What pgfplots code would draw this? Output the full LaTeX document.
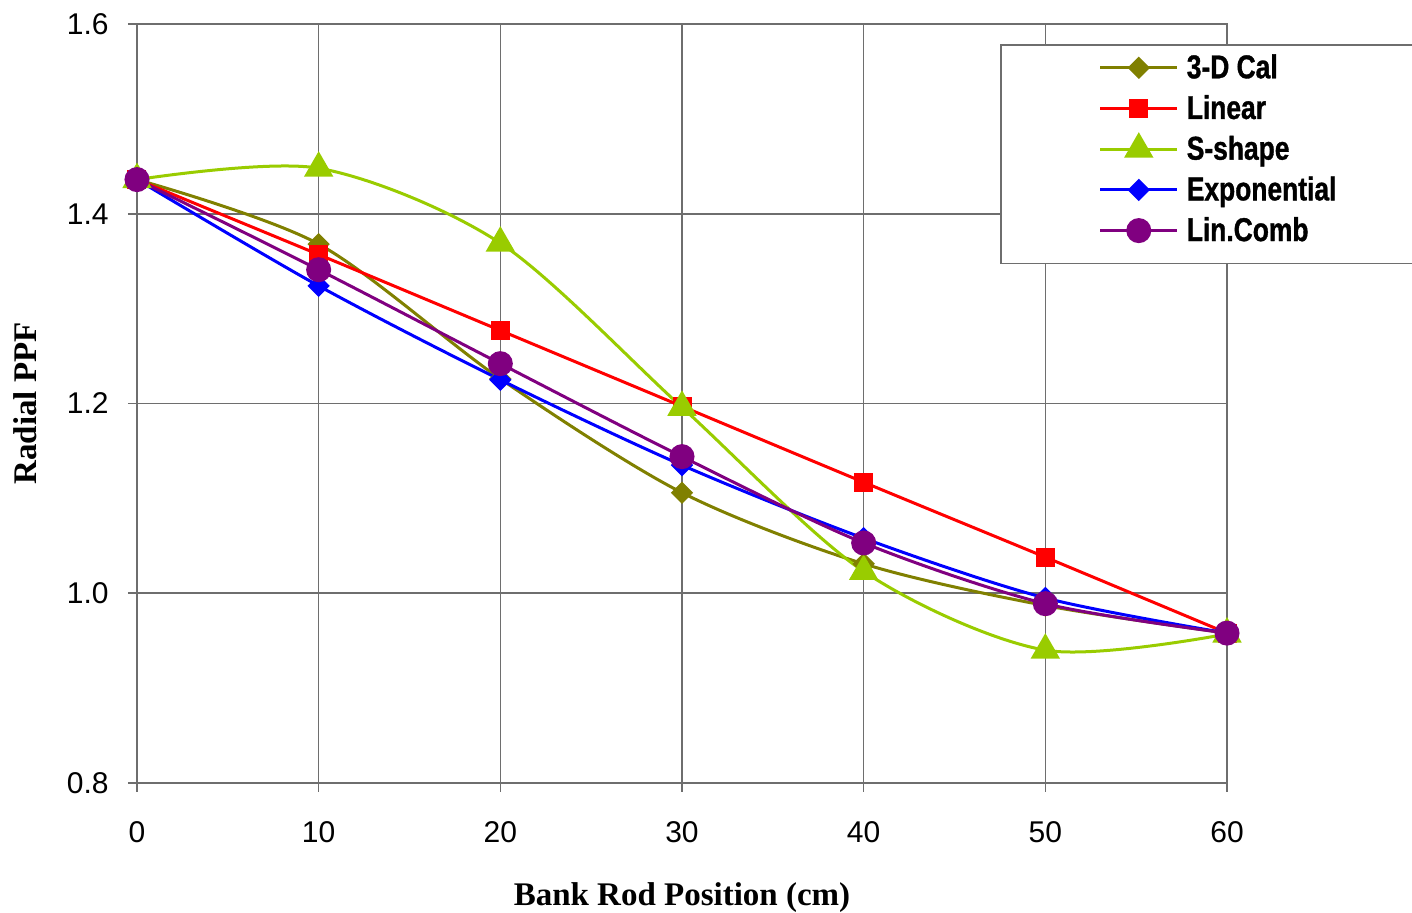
\documentclass[border=0pt]{standalone}
\usepackage{fontspec}
\usepackage{pgfplots}
\pgfplotsset{compat=1.18}
\setmainfont{Liberation Serif}
\newfontfamily\ticksfont{Liberation Sans}
\newfontfamily\legfont[FakeStretch=0.8, BoldFeatures={FakeBold=1.0}]{Liberation Sans}
\definecolor{c3d}{RGB}{128,128,0}
\definecolor{clin}{RGB}{255,0,0}
\definecolor{cs}{RGB}{153,204,0}
\definecolor{cexp}{RGB}{0,0,255}
\definecolor{ccomb}{RGB}{128,0,128}
\definecolor{gridc}{RGB}{110,110,110}
\begin{document}
\begin{tikzpicture}
\useasboundingbox (-68.5pt,-65pt) rectangle (637.5pt,391.5pt);
\begin{axis}[
  at={(0,0)}, anchor=south west,
  scale only axis, width=545pt, height=379.5pt,
  xmin=0, xmax=60, ymin=0.8, ymax=1.6,
  xtick={0,10,...,60}, ytick={0.8,1.0,1.2,1.4,1.6},
  grid=major,
  grid style={gridc, line width=0.8pt},
  axis line style={gridc, line width=0.8pt},
  tick style={gridc, line width=0.8pt},
  tick align=outside, major tick length=4.5pt,
  xtick pos=bottom, ytick pos=left,
  /pgf/number format/assume math mode=true,
  tick label style={font=\ticksfont\fontsize{15}{18}\selectfont},
  yticklabel style={/pgf/number format/.cd, fixed, fixed zerofill, precision=1, /tikz/.cd, anchor=east, inner sep=0pt, xshift=-9.5pt},
  xticklabel style={anchor=north, inner sep=0pt, yshift=-14.5pt},
  xlabel={Bank Rod Position (cm)},
  ylabel={Radial PPF},
  label style={font=\bfseries\fontsize{16.5}{19}\selectfont},
  xlabel style={at={(axis description cs:0.5,-0.162)}, anchor=base, inner sep=0pt},
  ylabel style={at={(axis description cs:-0.0925,0.5)}, anchor=base, rotate=0, inner sep=0pt},
  legend style={at={(axis description cs:0.79174,0.97365)}, anchor=north west,
    draw=gridc, line width=0.8pt, fill=white,
    inner xsep=49pt, inner ysep=4.5pt, row sep=1.35pt, column sep=2pt,
    font=\legfont\bfseries\fontsize{16.5}{18}\selectfont,
    nodes={inner xsep=2pt, inner ysep=0pt}},
  legend cell align=left,
  legend image code/.code={%
    \path[draw=none, fill=none] (0pt,-12pt) rectangle (38.5pt,7pt);
    \draw[mark repeat=2, mark phase=2] plot coordinates {(0pt,0pt)(19.25pt,0pt)(38.5pt,0pt)};},
  every axis plot/.append style={line width=1.5pt, smooth, tension=0.5},
]
\addplot[c3d, mark=square*, mark size=3.2pt, mark options={rotate=45, solid, fill=c3d}] coordinates {
(0,1.436) (10,1.368) (20,1.226) (30,1.106) (40,1.031) (50,0.987) (60,0.958)};
\addlegendentry{3-D Cal}
\addplot[clin, mark=square*, mark size=4pt, mark options={solid, fill=clin}] coordinates {
(0,1.436) (10,1.357) (20,1.277) (30,1.197) (40,1.117) (50,1.038) (60,0.958)};
\addlegendentry{Linear}
\addplot[cs, mark=triangle*, mark size=7pt, mark options={solid, fill=cs}] coordinates {
(0,1.436) (10,1.448) (20,1.369) (30,1.196) (40,1.023) (50,0.940) (60,0.957)};
\addlegendentry{S-shape}
\addplot[cexp, mark=square*, mark size=3.2pt, mark options={rotate=45, solid, fill=cexp}] coordinates {
(0,1.436) (10,1.324) (20,1.225) (30,1.135) (40,1.058) (50,0.995) (60,0.958)};
\addlegendentry{Exponential}
\addplot[ccomb, mark=*, mark size=5.5pt, mark options={solid, fill=ccomb}] coordinates {
(0,1.436) (10,1.341) (20,1.242) (30,1.144) (40,1.053) (50,0.989) (60,0.958)};
\addlegendentry{Lin.Comb}
\end{axis}
\end{tikzpicture}
\end{document}
